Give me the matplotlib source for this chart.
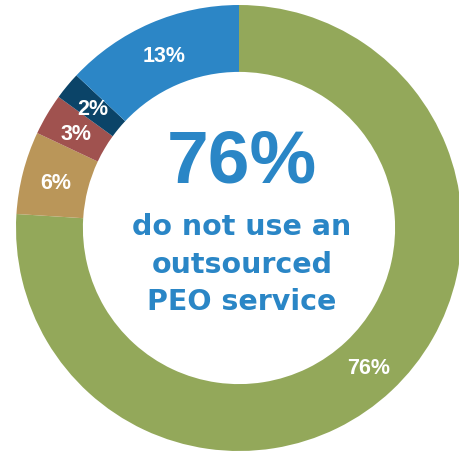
import matplotlib
matplotlib.use("Agg")
import matplotlib.pyplot as plt

# Share of respondents by PEO usage (clockwise from 12 o'clock)
categories = ["Do not use", "Category B", "Category C", "Category D", "Use PEO service"]
shares = [76, 6, 3, 2, 13]
colors = ["#93A85A", "#BA9659", "#A0524F", "#0B4468", "#2C86C6"]

headline = "76%"
subtitle_lines = ["do not use an", "outsourced", "PEO service"]

W, H, DPI = 460, 454, 100
fig = plt.figure(figsize=(W / DPI, H / DPI), dpi=DPI)
ax = fig.add_axes([0, 0, 1, 1])

wedges, texts, autotexts = ax.pie(
    shares,
    colors=colors,
    startangle=90,
    counterclock=False,
    radius=1.0,
    wedgeprops=dict(width=0.30, linewidth=0),
    autopct=lambda p: f"{p:.0f}%",
    pctdistance=0.85,
    textprops=dict(color="white", fontsize=15.5, fontweight="bold",
                   family=["Liberation Sans", "DejaVu Sans"]),
)
for t in autotexts:
    t.set_va("center_baseline")

# place the ring: centre at (239, 228) px from top-left, outer radius 223 px
R = 223.0
cx, cy = 239.0, H - 228.0
ax.set_xlim(-cx / R, (W - cx) / R)
ax.set_ylim(-cy / R, (H - cy) / R)
ax.set_aspect("auto")
ax.axis("off")

blue = "#2A86C6"
ax.text(0.013, 0.206, headline, ha="center", va="baseline", color=blue,
        fontsize=54, fontweight="bold", family=["Liberation Sans", "DejaVu Sans"])
for line, y in zip(subtitle_lines, [-0.031, -0.202, -0.368]):
    ax.text(0.013, y, line, ha="center", va="baseline", color=blue,
            fontsize=20.5, fontweight="bold", family=["DejaVu Sans"])

fig.savefig("out.png", dpi=DPI, facecolor="white")
